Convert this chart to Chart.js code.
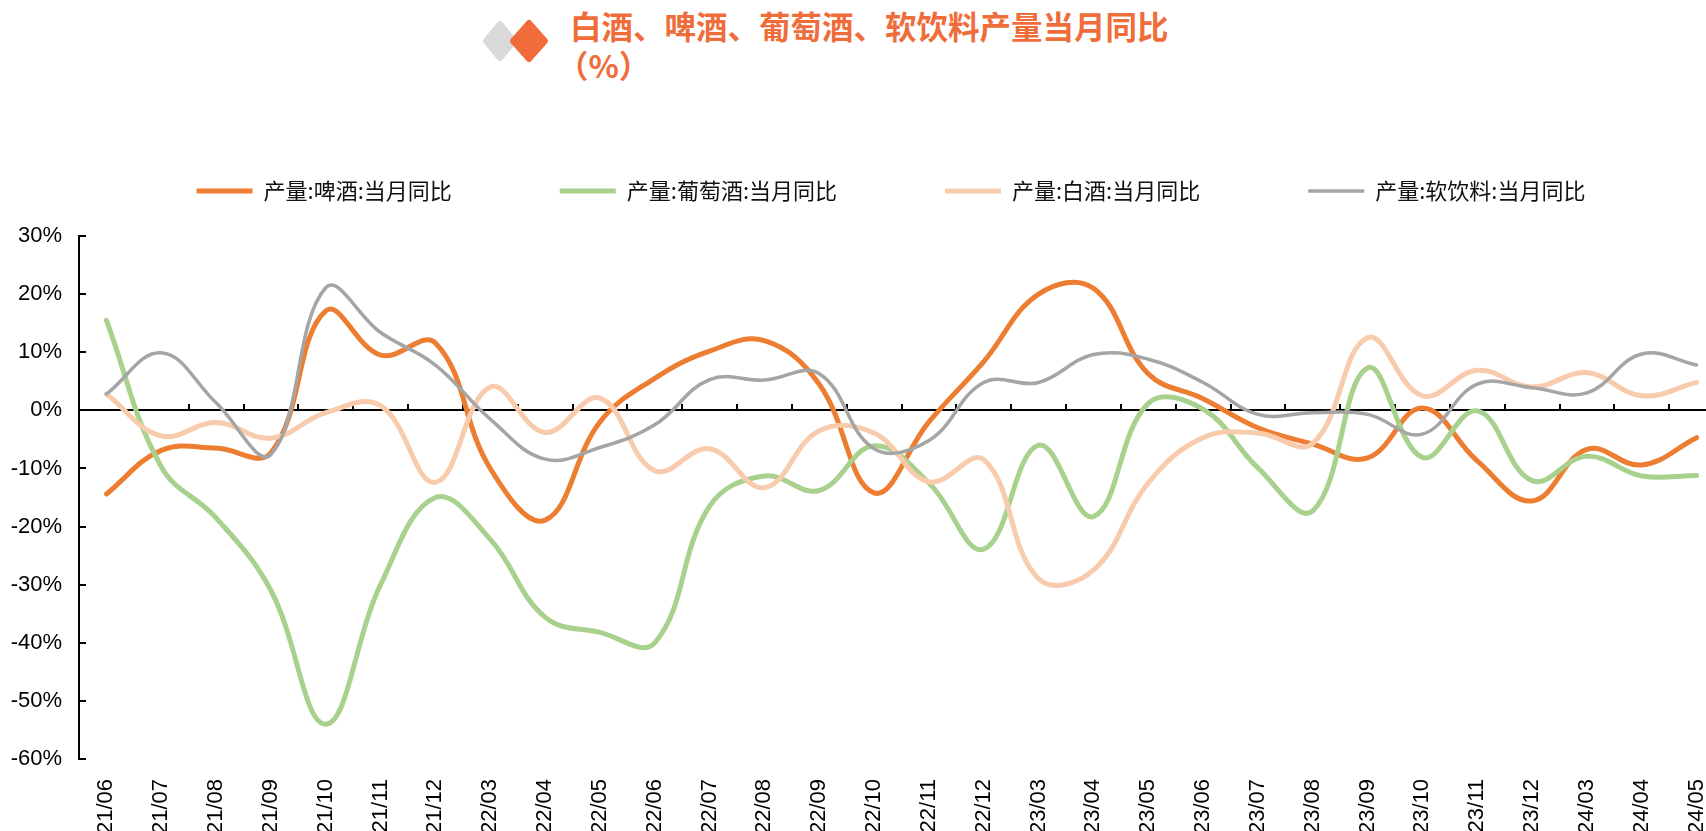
<!DOCTYPE html>
<html>
<head>
<meta charset="utf-8">
<script src="https://cdn.jsdelivr.net/npm/chart.js@4.4.1/dist/chart.umd.min.js"></script>
<style>
    html, body { margin: 0; padding: 0; background: #fff; overflow: hidden; width: 1706px; height: 831px; }
    #wrap { position: absolute; left: 0; top: 0; }
    #title {
        position: absolute; left: 570px; top: 6px;
        font-family: "Noto Sans CJK SC"; font-weight: 700; font-size: 31.5px;
        line-height: 39px; color: #EF6D3A; white-space: nowrap;
    }
    #title .unit { margin-left: -13px; }
    #badge { position: absolute; left: 470px; top: 10px; }
</style>
</head>
<body>
<svg id="badge" width="90" height="62">
    <polygon points="30,14 44,31 30,48 16,31" fill="#D9D9D9" stroke="#D9D9D9" stroke-width="6" stroke-linejoin="round"/>
    <polygon points="59,13 75,31 59,49 43,31" fill="#F26B3A" stroke="#F26B3A" stroke-width="6" stroke-linejoin="round"/>
</svg>
<div id="title">白酒、啤酒、葡萄酒、软饮料产量当月同比<br><span class="unit">（%）</span></div>
<div id="wrap"><canvas id="chart" width="1782" height="831"></canvas></div>
<script>
// Month labels on the category axis
const months = ['21/06', '21/07', '21/08', '21/09', '21/10', '21/11', '21/12', '22/03', '22/04', '22/05',
    '22/06', '22/07', '22/08', '22/09', '22/10', '22/11', '22/12', '23/03', '23/04', '23/05',
    '23/06', '23/07', '23/08', '23/09', '23/10', '23/11', '23/12', '24/03', '24/04', '24/05'];

// YoY growth, %
const beer = [-14.4, -6.9, -6.5, -7.3, 17.1, 9.5, 11.6, -10, -18.9, -2,
    5.5, 10.2, 12, 4.5, -14.2, -2, 8.4, 20, 21, 6.3,
    2, -3, -5.8, -8.2, 0.4, -8.7, -15.6, -6.7, -9.4, -4.7];
const wine = [15.5, -9.7, -18.5, -31, -54, -30, -15, -22.2, -35.6, -38.2,
    -40, -16.5, -11.3, -13.8, -6.1, -12.5, -23.9, -6, -18.3, 1.2,
    0.2, -9.9, -17.3, 7.3, -8.1, -0.1, -12.1, -7.9, -11.3, -11.2];
const baijiu = [2.8, -4.4, -2.1, -4.8, -0.4, 0.8, -12.4, 4, -3.8, 2.1,
    -10.4, -6.6, -13.3, -3.5, -3.9, -12.3, -8.5, -29, -27.5, -12.5,
    -4.7, -3.9, -5.7, 12.5, 2.5, 6.9, 4, 6.5, 2.5, 4.8];
const softDrinks = [2.8, 9.9, 1.3, -7.6, 21.1, 13.4, 7.8, -1.5, -8.4, -6.4,
    -2.5, 5.3, 5.2, 6.3, -6.6, -5.2, 4.8, 4.8, 9.6, 8.8,
    4.8, -0.7, -0.4, -0.7, -4.1, 4.5, 3.9, 3.0, 9.7, 7.8];

const yTicks = { min: -60, max: 30, step: 10 };

const LEGEND_HEIGHT = 164;

Chart.defaults.font.family = '"Liberation Sans", Arial, sans-serif';
Chart.defaults.color = '#000';

// Make room between the legend and the plot
const legendSpace = {
    id: 'legendSpace',
    beforeInit(chart) {
        const fit = chart.legend.fit;
        chart.legend.fit = function () {
            fit.call(this);
            this.height = LEGEND_HEIGHT;
        };
    }
};

// Zero line with its tick marks, and inward ticks on the value axis
const axisMarks = {
    id: 'axisMarks',
    beforeDatasetsDraw(chart) {
        const { ctx, chartArea, scales: { x, y } } = chart;
        const y0 = Math.round(y.getPixelForValue(0));
        ctx.save();
        ctx.strokeStyle = '#000';
        ctx.lineWidth = 2;
        ctx.beginPath();
        ctx.moveTo(chartArea.left, y0);
        ctx.lineTo(chartArea.right, y0);
        for (let i = 1; i < months.length; i++) {
            const px = Math.round(x.getPixelForValue(i - 0.5));
            ctx.moveTo(px, y0);
            ctx.lineTo(px, y0 - 6);
        }
        y.ticks.forEach(t => {
            const py = Math.round(y.getPixelForValue(t.value));
            ctx.moveTo(chartArea.left, py);
            ctx.lineTo(chartArea.left + 7, py);
        });
        ctx.stroke();
        ctx.restore();
    }
};

function series(label, data, color, width, order) {
    return {
        label: label,
        data: data,
        borderColor: color,
        backgroundColor: color,
        borderWidth: width,
        borderCapStyle: 'round',
        pointRadius: 0,
        tension: 0.4,
        fill: false,
        order: order
    };
}

new Chart(document.getElementById('chart'), {
    type: 'line',
    data: {
        labels: months,
        datasets: [
            series('产量:啤酒:当月同比', beer, '#ED7D31', 5, 4),
            series('产量:葡萄酒:当月同比', wine, '#A9D18E', 5, 3),
            series('产量:白酒:当月同比', baijiu, '#F8CBAD', 5, 2),
            series('产量:软饮料:当月同比', softDrinks, '#A5A5A5', 3.5, 1)
        ]
    },
    options: {
        responsive: false,
        animation: false,
        layout: { padding: { top: 72, left: 0, right: 0, bottom: 0 } },
        scales: {
            x: {
                offset: true,
                grid: { display: false },
                border: { display: false },
                ticks: {
                    autoSkip: false,
                    maxRotation: 90,
                    minRotation: 90,
                    padding: 12,
                    color: '#000',
                    font: { size: 22 }
                },
                afterFit(s) { s.height = 72; }
            },
            y: {
                min: yTicks.min,
                max: yTicks.max,
                grid: { display: false, drawTicks: false },
                border: { display: true, color: '#000', width: 2 },
                ticks: {
                    stepSize: yTicks.step,
                    padding: 17,
                    color: '#000',
                    font: { size: 22 },
                    callback: v => v + '%'
                },
                afterFit(s) { s.width = 79; }
            },
            y2: {
                position: 'right',
                grid: { display: false },
                border: { display: false },
                ticks: { display: false },
                afterFit(s) { s.width = 58; }
            }
        },
        plugins: {
            legend: {
                position: 'top',
                labels: {
                    usePointStyle: true,
                    pointStyle: 'line',
                    pointStyleWidth: 56,
                    padding: 108,
                    color: '#111',
                    font: { family: '"Noto Sans CJK SC"', size: 22 },
                    sort: (a, b) => a.datasetIndex - b.datasetIndex
                }
            },
            tooltip: { enabled: false }
        }
    },
    plugins: [legendSpace, axisMarks]
});
</script>
</body>
</html>
